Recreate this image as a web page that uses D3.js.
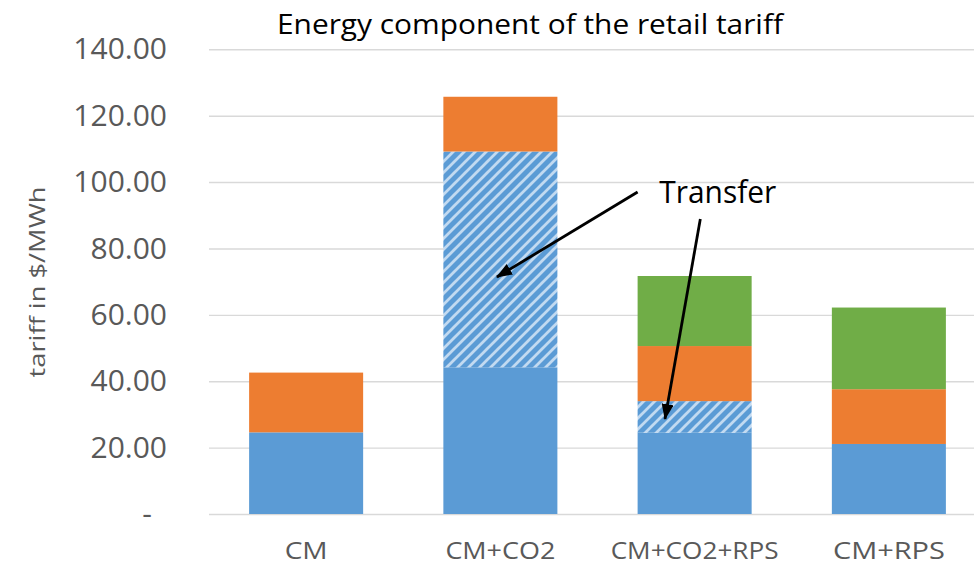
<!DOCTYPE html>
<html><head><meta charset="utf-8">
<script src="https://cdn.jsdelivr.net/npm/d3@7"></script>
<style>
html,body{margin:0;padding:0;background:#fff;}
svg{display:block;font-family:"Open Sans",sans-serif;}
</style></head>
<body>
<svg id="chart" width="974" height="567"></svg>
<script>
// ---- data ----
const categories = ["CM", "CM+CO2", "CM+CO2+RPS", "CM+RPS"];
const energy   = [24.6, 44.2, 24.5, 21.1];
const transfer = [0.0, 65.0, 9.5, 0.0];
const capacity = [18.0, 16.5, 16.6, 16.5];
const rps      = [0.0, 0.0, 21.1, 24.6];
const yTicks   = [0, 20, 40, 60, 80, 100, 120, 140];
const titleText = "Energy component of the retail tariff";
const yLabel = "tariff in $/MWh";
const annotationText = "Transfer";
// annotation anchors in data space: category, fraction of band, value
const textAnchor = {cat: "CM+CO2+RPS", f: 0.19, v: 93.7};
const arrows = [
  {from: {cat: "CM+CO2+RPS", f: 0.0, v: 97.0}, to: {cat: "CM+CO2", f: 0.47, v: 71.4}},
  {from: {cat: "CM+CO2+RPS", f: 0.55, v: 88.9}, to: {cat: "CM+CO2+RPS", f: 0.24, v: 28.6}}
];

const keys = ["energy", "transfer", "capacity", "rps"];
const table = categories.map((c, i) => ({cat: c, energy: energy[i], transfer: transfer[i], capacity: capacity[i], rps: rps[i]}));
const colors = {energy: "#5b9bd5", transfer: "url(#hatch)", capacity: "#ed7d31", rps: "#70ad47"};

const svg = d3.select("#chart");
const plotLeft = 209, plotRight = 986, plotTop = 49.3, plotBottom = 514;

const x = d3.scaleBand().domain(categories).range([plotLeft, plotRight]).paddingInner(0.413).paddingOuter(0.2065);
const y = d3.scaleLinear().domain([0, 140]).range([plotBottom, plotTop]);

// defs: hatch + arrowhead
const defs = svg.append("defs");
const pat = defs.append("pattern").attr("id", "hatch").attr("patternUnits", "userSpaceOnUse")
  .attr("width", 11).attr("height", 11);
pat.append("rect").attr("width", 11).attr("height", 11).attr("fill", "#5b9bd5");
pat.append("path").attr("d", "M-2,2 L2,-2 M0,11 L11,0 M9,13 L13,9")
  .attr("stroke", "#c2daf1").attr("stroke-width", 2.8);
defs.append("marker").attr("id", "arrowhead").attr("markerUnits", "userSpaceOnUse")
  .attr("viewBox", "0 0 16 12").attr("markerWidth", 16).attr("markerHeight", 12)
  .attr("refX", 15).attr("refY", 6).attr("orient", "auto")
  .append("path").attr("d", "M0,0 L16,6 L0,12 Z").attr("fill", "#000");

function fit(sel, w) {
  sel.each(function(){
    const n = this.getComputedTextLength();
    if (n > 0) d3.select(this).attr("textLength", w).attr("lengthAdjust", "spacingAndGlyphs");
  });
}

// y axis with gridlines
const yAxis = svg.append("g").attr("transform", `translate(${plotLeft},0)`)
  .call(d3.axisLeft(y).tickValues(yTicks).tickSize(-(974 - plotLeft)).tickPadding(42)
    .tickFormat(d => d === 0 ? "-" : d3.format(".2f")(d)));
yAxis.select(".domain").remove();
yAxis.selectAll(".tick line").attr("stroke", "#d9d9d9").attr("stroke-width", 1.4);
yAxis.selectAll(".tick text").attr("fill", "#595959").attr("font-size", 30)
  .attr("font-family", "'Open Sans',sans-serif")
  .attr("dx", d => d === 0 ? -15 : 0);

// bars
const stacked = d3.stack().keys(keys)(table);
svg.append("g").selectAll("g").data(stacked).join("g")
  .attr("fill", d => colors[d.key])
  .selectAll("rect").data(d => d).join("rect")
  .attr("x", d => x(d.data.cat))
  .attr("width", x.bandwidth())
  .attr("y", d => y(d[1]))
  .attr("height", d => y(d[0]) - y(d[1]));

// x axis labels
const xAxis = svg.append("g").attr("transform", `translate(0,${plotBottom})`)
  .call(d3.axisBottom(x).tickSize(0));
xAxis.select(".domain").remove();
xAxis.selectAll(".tick text").attr("fill", "#595959").attr("font-size", 23)
  .attr("font-family", "'Open Sans',sans-serif")
  .attr("y", 45).attr("dy", null);
const xWidths = {"CM": 43, "CM+CO2": 110, "CM+CO2+RPS": 168, "CM+RPS": 112};
xAxis.selectAll(".tick text").each(function(d){ fit(d3.select(this), xWidths[d]); });

// y label
svg.append("text").attr("transform", "translate(45,282) rotate(-90)")
  .attr("text-anchor", "middle").attr("fill", "#595959").attr("font-size", 21)
  .text(yLabel).call(fit, 191);

// title
svg.append("text").attr("x", 530).attr("y", 34).attr("text-anchor", "middle")
  .attr("fill", "#000").attr("font-size", 28).text(titleText).call(fit, 506);

// annotations
const px = p => x(p.cat) + p.f * x.bandwidth();
svg.append("text").attr("x", px(textAnchor)).attr("y", y(textAnchor.v))
  .attr("fill", "#000").attr("font-size", 31).text(annotationText).call(fit, 117);
svg.append("g").selectAll("line").data(arrows).join("line")
  .attr("x1", d => px(d.from)).attr("y1", d => y(d.from.v))
  .attr("x2", d => px(d.to)).attr("y2", d => y(d.to.v))
  .attr("stroke", "#000").attr("stroke-width", 2.8)
  .attr("marker-end", "url(#arrowhead)");
</script>
</body></html>
